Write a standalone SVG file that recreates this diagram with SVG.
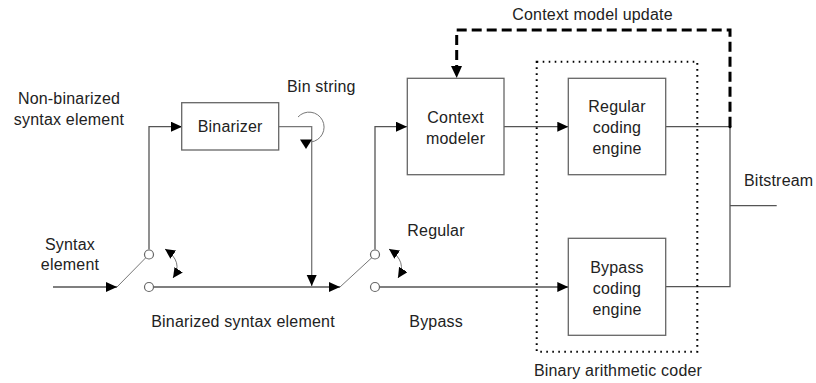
<svg xmlns="http://www.w3.org/2000/svg" width="816" height="383" viewBox="0 0 816 383">
<style>
text{font-family:"Liberation Sans",Arial,sans-serif;font-size:16px;fill:#222;letter-spacing:0.2px}
.c{text-anchor:middle}
.box{fill:#fff;stroke:#666;stroke-width:1.3}
.ln{fill:none;stroke:#555;stroke-width:1.3}
.thin{fill:none;stroke:#777;stroke-width:1}
.sw{fill:#fff;stroke:#666;stroke-width:1.2}
</style>
<defs>
<marker id="arr" markerUnits="userSpaceOnUse" markerWidth="12" markerHeight="11" refX="11" refY="5" orient="auto"><path d="M0,0 L11,5 L0,10 z" fill="#000"/></marker>
<marker id="arrs" markerUnits="userSpaceOnUse" markerWidth="12" markerHeight="12" refX="10" refY="5" orient="auto-start-reverse"><path d="M0,0 L10,5 L0,10 z" fill="#000"/></marker>
</defs>

<g id="connectors">
  <path class="ln" d="M53,287 H117" marker-end="url(#arr)"/>
  <line class="thin" x1="117" y1="287" x2="146" y2="257.5"/>
  <path class="ln" d="M149,249.5 V126.7 H182" marker-end="url(#arr)"/>
  <path class="ln" d="M153.5,287 H340" marker-end="url(#arr)"/>
  <path class="thin" d="M165,249 Q184,262 173,278" marker-start="url(#arrs)" marker-end="url(#arrs)"/>
  <path class="ln" d="M278.7,126.7 H311.7 V286" marker-end="url(#arr)" style="stroke:#777"/>
  <path class="thin" d="M298,117 A15,15 0 1 1 311,142"/>
  <polygon points="300,139.5 312,139.5 306,149" fill="#000"/>
  <line class="thin" x1="340" y1="287" x2="372" y2="257.5"/>
  <path class="ln" d="M375,249.5 V126.7 H407" marker-end="url(#arr)"/>
  <path class="ln" d="M379.5,287 H568.3" marker-end="url(#arr)"/>
  <path class="thin" d="M389,249 Q408,262 398,278" marker-start="url(#arrs)" marker-end="url(#arrs)"/>
  <path class="ln" d="M504,126.7 H568.3" marker-end="url(#arr)"/>
  <path class="ln" d="M665.7,126.7 H730 V286.7 H665.7"/>
  <path class="ln" d="M730,205.7 H776.7"/>
  <circle cx="730" cy="126.7" r="1.5" fill="#000"/>
  <path d="M730,126.7 V30 H456.7 V68" fill="none" stroke="#000" stroke-width="3" stroke-dasharray="10 5"/>
  <polygon points="451,66 462,66 456.7,78" fill="#000"/>
</g>

<g id="switch1">
  <circle class="sw" cx="149" cy="254.5" r="4.5"/>
  <circle class="sw" cx="149" cy="287" r="4.5"/>
</g>
<g id="switch2">
  <circle class="sw" cx="375" cy="254.5" r="4.5"/>
  <circle class="sw" cx="375" cy="287" r="4.5"/>
</g>

<g id="binary-arithmetic-coder">
  <rect x="536.7" y="61.7" width="160.6" height="290" fill="none" stroke="#000" stroke-width="2" stroke-dasharray="1.6 4.4"/>
  <text class="c" x="618" y="376">Binary arithmetic coder</text>
</g>

<g id="binarizer">
  <rect class="box" x="181.7" y="102.7" width="97" height="47.3"/>
  <text class="c" x="230.2" y="132">Binarizer</text>
</g>

<g id="context-modeler">
  <rect class="box" x="407.3" y="78.3" width="96.7" height="96.4"/>
  <text class="c" x="455.6" y="123.3">Context</text>
  <text class="c" x="455.6" y="144">modeler</text>
</g>

<g id="regular-coding-engine">
  <rect class="box" x="568.3" y="78.3" width="97.4" height="96.4"/>
  <text class="c" x="617" y="112.3">Regular</text>
  <text class="c" x="617" y="133.3">coding</text>
  <text class="c" x="617" y="154.3">engine</text>
</g>

<g id="bypass-coding-engine">
  <rect class="box" x="568.3" y="238.3" width="97.4" height="97"/>
  <text class="c" x="617" y="272.5">Bypass</text>
  <text class="c" x="617" y="293.5">coding</text>
  <text class="c" x="617" y="314.5">engine</text>
</g>

<g id="labels">
  <text class="c" x="69" y="104">Non-binarized</text>
  <text class="c" x="69" y="125">syntax element</text>
  <text class="c" x="70" y="249.5">Syntax</text>
  <text class="c" x="70" y="269.5">element</text>
  <text x="287" y="92">Bin string</text>
  <text class="c" x="243" y="327">Binarized syntax element</text>
  <text x="407.3" y="236">Regular</text>
  <text x="409.3" y="327">Bypass</text>
  <text class="c" x="592.5" y="20">Context model update</text>
  <text x="744" y="186">Bitstream</text>
</g>
</svg>
